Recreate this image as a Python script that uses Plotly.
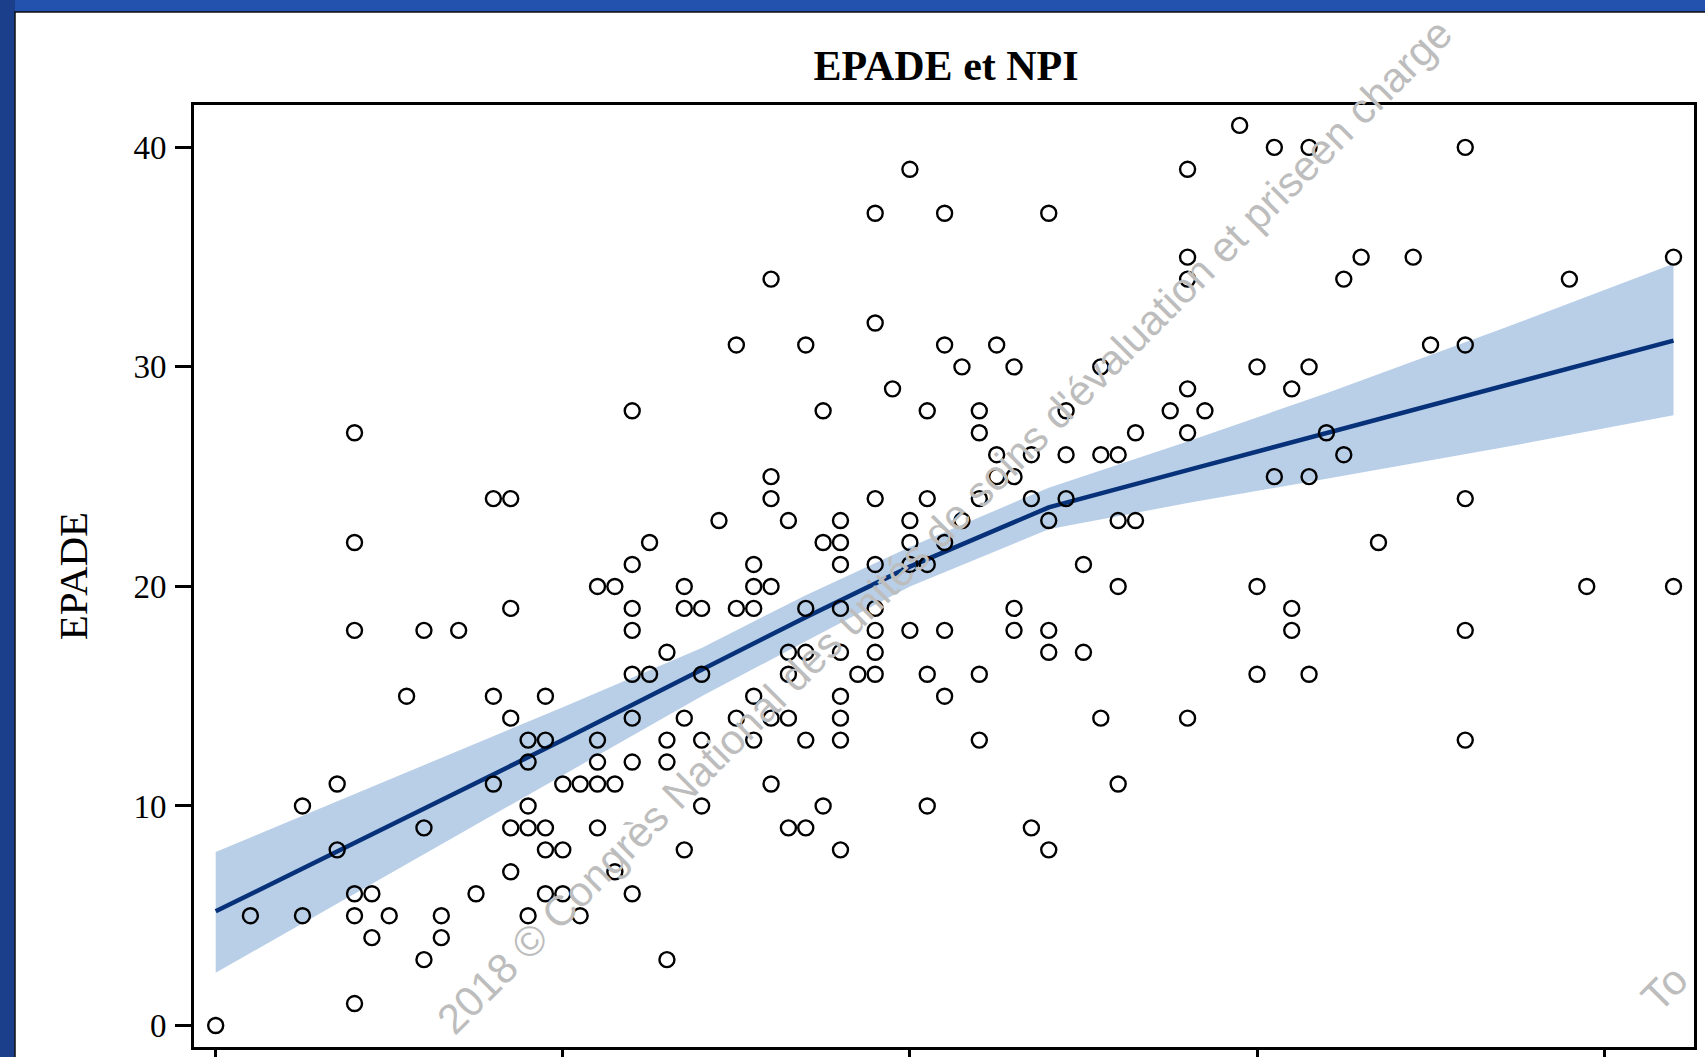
import plotly.graph_objects as go

# ---- data ----
npi = [
    0,
    2,
    5, 5,
    7, 7,
    8, 8, 8, 8, 8, 8,
    9, 9,
    10,
    11,
    12, 12, 12,
    13, 13,
    14,
    15,
    16, 16, 16,
    17, 17, 17, 17, 17,
    18, 18, 18, 18, 18,
    19, 19, 19, 19, 19,
    20, 20, 20,
    21, 21,
    22, 22, 22, 22, 22,
    23, 23, 23,
    24, 24, 24, 24, 24, 24, 24, 24,
    25, 25,
    26, 26, 26, 26,
    27, 27, 27, 27,
    28, 28, 28, 28,
    29,
    30, 30, 30,
    31, 31, 31, 31, 31,
    32, 32, 32, 32, 32, 32,
    33, 33, 33, 33, 33,
    34, 34, 34, 34, 34,
    35, 35, 35,
    36, 36, 36, 36, 36, 36, 36, 36, 36,
    37,
    38, 38, 38, 38, 38, 38, 38, 38,
    39,
    40, 40, 40, 40, 40,
    41, 41, 41, 41, 41,
    42, 42, 42, 42, 42,
    43, 43,
    44, 44, 44, 44, 44,
    45, 45, 45,
    46, 46, 46, 46,
    47, 47, 47,
    48, 48, 48, 48, 48,
    49, 49, 49,
    50, 50,
    51, 51, 51,
    52, 52, 52, 52,
    53, 53,
    55,
    56, 56, 56, 56, 56, 56,
    57,
    59,
    60, 60, 60,
    61, 61,
    62, 62, 62,
    63, 63, 63, 63,
    64,
    65, 65,
    66,
    67,
    69,
    70,
    72, 72, 72, 72, 72,
    78,
    79,
    84, 84,
]
epade = [
    0,
    5,
    10, 5,
    11, 8,
    27, 22, 18, 6, 5, 1,
    6, 4,
    5,
    15,
    18, 9, 3,
    5, 4,
    18,
    6,
    24, 15, 11,
    24, 19, 14, 9, 7,
    13, 12, 10, 9, 5,
    15, 13, 9, 8, 6,
    11, 8, 6,
    11, 5,
    20, 13, 12, 11, 9,
    20, 11, 7,
    28, 21, 19, 18, 16, 14, 12, 6,
    22, 16,
    17, 13, 12, 3,
    20, 19, 14, 8,
    19, 16, 13, 10,
    23,
    31, 19, 14,
    21, 20, 19, 15, 13,
    34, 25, 24, 20, 14, 11,
    23, 17, 16, 14, 9,
    31, 19, 17, 13, 9,
    28, 22, 10,
    23, 22, 21, 19, 17, 15, 14, 13, 8,
    16,
    37, 32, 24, 21, 19, 18, 17, 16,
    29,
    39, 23, 22, 21, 18,
    28, 24, 21, 16, 10,
    37, 31, 22, 18, 15,
    30, 23,
    28, 27, 24, 16, 13,
    31, 26, 25,
    30, 25, 19, 18,
    26, 24, 9,
    37, 23, 18, 17, 8,
    28, 26, 24,
    21, 17,
    30, 26, 14,
    26, 23, 20, 11,
    27, 23,
    28,
    39, 35, 34, 29, 27, 14,
    28,
    41,
    30, 20, 16,
    40, 25,
    29, 19, 18,
    40, 30, 25, 16,
    27,
    34, 26,
    35,
    22,
    35,
    31,
    40, 31, 24, 18, 13,
    34,
    20,
    35, 20,
]

# smoothed fit and its confidence band
fit_x = [0, 10, 20, 28, 34, 40, 48, 56, 64, 74, 84]
fit_y = [5.2, 9.1, 13.0, 16.2, 18.6, 20.9, 23.6, 25.3, 27.0, 29.1, 31.2]
fit_hi = [7.9, 11.2, 14.5, 17.2, 19.6, 21.8, 24.5, 26.6, 28.8, 31.7, 34.7]
fit_lo = [2.4, 6.9, 11.4, 15.0, 17.5, 20.0, 22.6, 23.8, 24.9, 26.3, 27.8]

y_ticks = [0, 10, 20, 30, 40]
x_ticks = [0, 20, 40, 60, 80]

title_text = "EPADE et NPI"
y_title = "EPADE"
watermark = "2018 © Congrès National des unités de soins d'évaluation et priseen charge"
watermark2 = "To"

# ---- figure ----
W, H = 1705, 1057
L, R, T, B = 194, 11, 105, 10
pw, ph = W - L - R, H - T - B


def px(x):
    return (x - L) / pw


def py(y):
    return (H - B - y) / ph


fig = go.Figure()

# confidence band
fig.add_trace(go.Scatter(x=fit_x, y=fit_hi, mode="lines", line=dict(width=0),
                         hoverinfo="skip", showlegend=False))
fig.add_trace(go.Scatter(x=fit_x, y=fit_lo, mode="lines", line=dict(width=0),
                         fill="tonexty", fillcolor="#b9cfe8",
                         hoverinfo="skip", showlegend=False))
# fit line
fig.add_trace(go.Scatter(x=fit_x, y=fit_y, mode="lines",
                         line=dict(color="#07327a", width=4.5),
                         showlegend=False))
# scatter points
fig.add_trace(go.Scatter(x=npi, y=epade, mode="markers",
                         marker=dict(symbol="circle-open", size=15, color="black",
                                     line=dict(width=2.4, color="black")),
                         showlegend=False))

shapes = [
    # white slide panel
    dict(type="rect", xref="paper", yref="paper",
         x0=px(15), x1=px(W + 5), y0=py(H + 5), y1=py(12),
         fillcolor="white", line=dict(color="#111111", width=1.5), layer="below"),
    # brighter top strip
    dict(type="rect", xref="paper", yref="paper",
         x0=px(15), x1=px(W + 5), y0=py(11), y1=py(-5),
         fillcolor="#2352ae", line=dict(width=0), layer="below"),
]

annotations = [
    dict(text=watermark, xref="paper", yref="paper", x=px(944), y=py(526),
         xanchor="center", yanchor="middle", textangle=-45, showarrow=False,
         font=dict(family="Liberation Sans, Arial", size=42, color="#bdbdbd")),
    dict(text=watermark2, xref="paper", yref="paper", x=px(1664), y=py(988),
         xanchor="center", yanchor="middle", textangle=-45, showarrow=False,
         font=dict(family="Liberation Sans, Arial", size=42, color="#bdbdbd")),
]

fig.update_layout(
    width=W, height=H,
    margin=dict(l=L, r=R, t=T, b=B, autoexpand=False),
    paper_bgcolor="#1c3f8c",
    plot_bgcolor="white",
    shapes=shapes,
    annotations=annotations,
    title=dict(text="<b>" + title_text + "</b>", x=946 / W, xanchor="center", xref="container",
               y=1 - 65 / H, yanchor="middle", yref="container",
               font=dict(family="Liberation Serif, Times New Roman", size=42, color="black")),
    showlegend=False,
)

fig.update_xaxes(range=[-1.25, 85.18], tickvals=x_ticks, showticklabels=False,
                 ticks="outside", ticklen=16, tickwidth=3, tickcolor="black",
                 showline=True, linewidth=3, linecolor="black", mirror=True,
                 showgrid=False, zeroline=False, automargin=False)
fig.update_yaxes(range=[-0.98, 41.93], tickvals=y_ticks,
                 ticktext=[str(v) for v in y_ticks],
                 ticks="outside", ticklen=16, tickwidth=3, tickcolor="black",
                 ticklabelstandoff=2,
                 tickfont=dict(family="Liberation Serif, Times New Roman", size=33, color="black"),
                 title=dict(text=y_title, standoff=34,
                            font=dict(family="Liberation Serif, Times New Roman", size=41, color="black")),
                 showline=True, linewidth=3, linecolor="black", mirror=True,
                 showgrid=False, zeroline=False, automargin=False)

fig.write_html("out.html", config={"displayModeBar": False},
               post_script="document.body.style.margin='0';document.body.style.overflow='hidden';")
